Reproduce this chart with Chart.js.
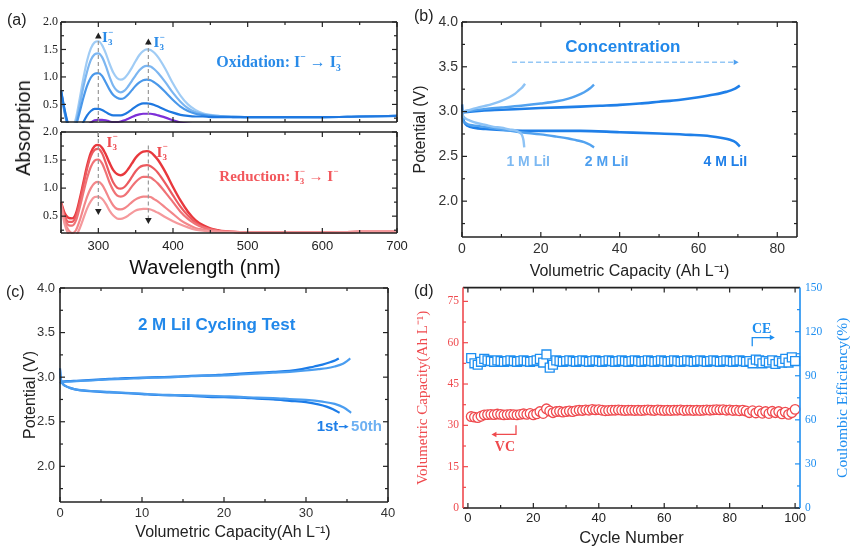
<!DOCTYPE html>
<html><head><meta charset="utf-8">
<script src="https://cdn.jsdelivr.net/npm/chart.js@4.4.1/dist/chart.umd.min.js"></script>
<style>
html,body{margin:0;padding:0;background:#fff;}
body{width:850px;height:546px;overflow:hidden;position:relative;}
canvas{position:absolute;}
.lab{position:absolute;font-family:"Liberation Sans",Arial,sans-serif;color:#222;white-space:nowrap;line-height:1;}
.rot{transform:translate(-50%,-50%) rotate(-90deg);}
</style></head><body>
<canvas id="cA1" width="420" height="135" style="left:0;top:0"></canvas>
<canvas id="cA2" width="420" height="160" style="left:0;top:125px"></canvas>
<canvas id="cB" width="440" height="290" style="left:410px;top:0"></canvas>
<canvas id="cC" width="410" height="266" style="left:0;top:280px"></canvas>
<canvas id="cD" width="440" height="276" style="left:410px;top:280px"></canvas>
<div class="lab" style="left:7px;top:12px;font-size:16px">(a)</div>
<div class="lab" style="left:414px;top:8px;font-size:16px">(b)</div>
<div class="lab" style="left:6px;top:284px;font-size:16px">(c)</div>
<div class="lab" style="left:414px;top:283px;font-size:16px">(d)</div>
<div class="lab rot" style="left:23px;top:128px;font-size:20px;color:#111">Absorption</div>
<script>
// ---------- DATA ----------
const wavelength = [250,255,260,265,270,275,280,285,290,295,300,305,310,315,320,325,330,335,340,345,350,355,360,365,370,375,380,390,400,410,420,430,440,450,460,470,480,500,550,600,650,700];
const ox1 = [0.75,0.38,0.12,0.08,0.25,0.60,0.98,1.30,1.52,1.63,1.65,1.58,1.43,1.24,1.08,0.98,0.95,0.98,1.06,1.17,1.29,1.40,1.47,1.50,1.49,1.44,1.36,1.14,0.88,0.66,0.50,0.40,0.34,0.31,0.29,0.28,0.28,0.27,0.27,0.27,0.28,0.29];
const ox2 = [0.75,0.36,0.10,0.05,0.18,0.48,0.82,1.10,1.31,1.41,1.43,1.36,1.20,1.00,0.84,0.75,0.72,0.75,0.83,0.93,1.03,1.12,1.18,1.20,1.19,1.14,1.07,0.90,0.71,0.55,0.43,0.36,0.32,0.30,0.29,0.28,0.28,0.27,0.27,0.27,0.28,0.29];
const ox3 = [0.75,0.34,0.08,0.03,0.12,0.36,0.62,0.84,0.99,1.06,1.07,1.02,0.90,0.77,0.67,0.62,0.60,0.62,0.68,0.76,0.84,0.90,0.94,0.95,0.94,0.90,0.85,0.72,0.58,0.46,0.38,0.33,0.31,0.29,0.28,0.28,0.27,0.27,0.27,0.27,0.28,0.29];
const ox4 = [0.76,0.40,0.12,0.00,-0.05,0.05,0.18,0.30,0.38,0.42,0.42,0.40,0.36,0.32,0.30,0.30,0.30,0.32,0.36,0.41,0.46,0.50,0.52,0.52,0.51,0.49,0.46,0.40,0.35,0.31,0.29,0.28,0.28,0.27,0.27,0.27,0.27,0.27,0.27,0.27,0.28,0.29];
const oxStart = [0.05,0.05,0.05,0.05,0.05,0.06,0.08,0.12,0.17,0.21,0.22,0.22,0.21,0.19,0.18,0.18,0.19,0.21,0.24,0.27,0.30,0.32,0.33,0.33,0.33,0.32,0.30,0.26,0.21,0.17,0.15,0.14,0.13,0.12,0.12,0.12,0.12,0.12,0.12,0.12,0.12,0.12];
const red1 = [0.75,0.55,0.47,0.46,0.55,0.80,1.10,1.40,1.63,1.75,1.77,1.72,1.60,1.45,1.32,1.25,1.23,1.26,1.34,1.44,1.54,1.61,1.65,1.66,1.64,1.58,1.50,1.28,1.02,0.78,0.58,0.43,0.34,0.28,0.25,0.23,0.22,0.21,0.21,0.21,0.22,0.22];
const red2 = [0.74,0.50,0.40,0.40,0.50,0.75,1.05,1.35,1.57,1.68,1.70,1.62,1.45,1.26,1.10,1.01,0.99,1.02,1.10,1.20,1.30,1.37,1.40,1.41,1.39,1.34,1.27,1.08,0.87,0.67,0.51,0.39,0.31,0.27,0.24,0.23,0.22,0.21,0.21,0.21,0.22,0.22];
const red3 = [0.73,0.46,0.34,0.33,0.42,0.65,0.92,1.18,1.38,1.49,1.51,1.44,1.28,1.10,0.96,0.87,0.85,0.87,0.94,1.03,1.11,1.17,1.20,1.20,1.19,1.14,1.08,0.92,0.75,0.58,0.45,0.36,0.30,0.26,0.24,0.22,0.22,0.21,0.21,0.21,0.22,0.22];
const red4 = [0.72,0.40,0.25,0.20,0.25,0.42,0.64,0.85,1.00,1.09,1.11,1.06,0.94,0.80,0.69,0.63,0.62,0.64,0.69,0.75,0.80,0.83,0.85,0.85,0.84,0.80,0.76,0.65,0.54,0.43,0.35,0.29,0.26,0.24,0.23,0.22,0.22,0.21,0.21,0.21,0.22,0.22];
const red5 = [0.70,0.35,0.18,0.12,0.15,0.28,0.46,0.64,0.77,0.84,0.85,0.81,0.72,0.60,0.51,0.46,0.45,0.47,0.51,0.56,0.60,0.62,0.63,0.63,0.62,0.59,0.56,0.48,0.41,0.35,0.30,0.26,0.24,0.23,0.22,0.22,0.22,0.21,0.21,0.21,0.22,0.22];

// (b) concentration
const cap1MCharge = [0,1,2,4,6,8,10,12,13.5,14.5,15.3,16.0];
const pot1MCharge = [2.99,3.01,3.02,3.045,3.065,3.09,3.12,3.16,3.2,3.24,3.27,3.31];
const cap1MDis = [0,0.3,1,2,4,6,8,10,12,13.5,14.5,15.2,15.6,15.8];
const pot1MDis = [2.99,2.95,2.92,2.9,2.87,2.85,2.83,2.82,2.8,2.79,2.77,2.74,2.68,2.6];
const cap2MCharge = [0,1,3,6,10,15,20,24,27,29,31,32.5,33.5];
const pot2MCharge = [2.99,3.0,3.015,3.03,3.045,3.065,3.09,3.115,3.145,3.175,3.215,3.26,3.30];
const cap2MDis = [0,0.3,1,2,4,7,10,15,20,24,27,29,31,32.5,33.5];
const pot2MDis = [2.97,2.9,2.87,2.85,2.84,2.82,2.8,2.77,2.745,2.72,2.70,2.68,2.66,2.63,2.60];
const cap4MCharge = [0,2,5,10,20,30,35,40,45,50,55,60,64,67,69,70.5];
const pot4MCharge = [2.99,3.0,3.01,3.02,3.04,3.055,3.065,3.075,3.09,3.11,3.13,3.16,3.19,3.22,3.25,3.29];
const cap4MDis = [0,0.2,0.6,1.5,3,6,10,20,30,40,50,58,63,66,68,69.5,70.5];
const pot4MDis = [3.08,2.95,2.88,2.84,2.82,2.805,2.795,2.785,2.785,2.77,2.755,2.74,2.725,2.705,2.685,2.655,2.61];

// (c) cycling
const cap1stCharge = [0,0.3,1,2,4,6,8,10,12,14,16,18,20,22,24,26,28,29.5,31,32,33,33.6,34.0];
const pot1stCharge = [2.93,2.95,2.955,2.96,2.97,2.98,2.99,2.995,3.0,3.005,3.015,3.02,3.03,3.04,3.05,3.06,3.07,3.09,3.12,3.14,3.17,3.19,3.21];
const cap50thCharge = [0,0.3,1,2,4,6,8,10,12,14,16,18,20,22,24,26,28,30,31.5,32.5,33.5,34.5,35.0,35.4];
const pot50thCharge = [2.93,2.945,2.95,2.955,2.965,2.975,2.98,2.99,2.995,3.0,3.01,3.015,3.02,3.03,3.04,3.05,3.06,3.075,3.09,3.1,3.12,3.15,3.18,3.21];
const cap1stDis = [0,0.1,0.3,0.7,1.2,2,4,6,8,10,12,14,16,18,20,22,24,26,28,30,31.5,32.5,33.3,34.1];
const pot1stDis = [3.1,2.98,2.93,2.9,2.88,2.86,2.84,2.83,2.82,2.81,2.80,2.795,2.79,2.78,2.775,2.77,2.76,2.75,2.735,2.72,2.695,2.67,2.64,2.6];
const cap50thDis = [0,0.1,0.3,0.7,1.2,2,4,6,8,10,12,14,16,18,20,22,24,26,28,30,32,33.5,34.6,35.5];
const pot50thDis = [3.08,2.98,2.93,2.9,2.88,2.86,2.845,2.835,2.825,2.815,2.805,2.8,2.795,2.79,2.785,2.78,2.77,2.765,2.755,2.745,2.725,2.7,2.66,2.6];

// (d) cycle performance
const cycleNumber = [1,2,3,4,5,6,7,8,9,10,11,12,13,14,15,16,17,18,19,20,21,22,23,24,25,26,27,28,29,30,31,32,33,34,35,36,37,38,39,40,41,42,43,44,45,46,47,48,49,50,51,52,53,54,55,56,57,58,59,60,61,62,63,64,65,66,67,68,69,70,71,72,73,74,75,76,77,78,79,80,81,82,83,84,85,86,87,88,89,90,91,92,93,94,95,96,97,98,99,100];
const volCapacity = [33.2,33.0,32.8,33.3,33.8,33.9,34.0,33.9,34.1,34.0,33.8,33.9,34.0,33.9,33.8,34.0,34.2,34.0,34.3,33.8,34.2,35.0,34.3,36.0,35.2,34.6,35.0,35.1,34.8,35.0,35.2,35.0,35.3,35.5,35.4,35.6,35.5,35.8,35.6,35.7,35.5,35.3,35.4,35.5,35.5,35.6,35.5,35.4,35.5,35.5,35.4,35.5,35.4,35.5,35.6,35.5,35.4,35.6,35.5,35.4,35.5,35.4,35.5,35.5,35.6,35.4,35.5,35.5,35.4,35.5,35.4,35.5,35.6,35.5,35.6,35.7,35.6,35.7,35.5,35.6,35.4,35.5,35.3,35.5,35.2,34.6,35.3,34.5,35.2,34.4,35.0,34.3,35.1,34.6,35.0,34.2,34.8,34.0,34.6,35.8];
const coulombicEff = [102,98.5,97.5,99.5,101.5,100.5,100,99.5,100.5,100,99.5,100,100.5,100,99.5,100,100.5,100,99.5,100,100.5,101.5,99,104.5,95.5,97.5,100.5,100,99.5,100,100.5,100,99.5,100,100.5,100,99.5,100,100.5,100,99.5,100,100.5,100,99.5,100,100.5,100,99.5,100,100.5,100,99.5,100,100.5,100,99.5,100,100.5,100,99.5,100,100.5,100,99.5,100,100.5,100,99.5,100,100.5,100,99.5,100,100.5,100,99.5,100,100.5,100,99.5,100,100.5,100,99.5,100,98.5,101,100.5,98.5,100,99,100.5,98,100,99,101.5,99,102.5,100];

// ---------- HELPERS ----------
const SANS = '"Liberation Sans", Arial, sans-serif';
const SERIF = '"Liberation Serif", "Times New Roman", serif';
Chart.defaults.font.family = SANS;

function pts(xs, ys){ return xs.map((x,i)=>({x:x, y:ys[i]})); }
function ds(xs, ys, color, w, extra){
  return Object.assign({data:pts(xs,ys), borderColor:color, borderWidth:w, pointRadius:0, fill:false,
    cubicInterpolationMode:'monotone', clip:1}, extra||{});
}
function fixW(w){ return s => { s.width = w; s.paddingTop = 0; s.paddingBottom = 0; s.paddingLeft = 0; s.paddingRight = 0; }; }
function fixH(h){ return s => { s.height = h; s.paddingTop = 0; s.paddingBottom = 0; s.paddingLeft = 0; s.paddingRight = 0; }; }
const noGrid = {display:false, drawTicks:false};
const noBorder = {display:false};

function framePlugin(spec){
  return {id:'frame', afterDatasetsDraw(chart){
    const ctx = chart.ctx, a = chart.chartArea;
    ctx.save();
    ctx.lineWidth = 1.2;
    spec.ticks.forEach(t => {
      const sc = chart.scales[t.scale];
      ctx.strokeStyle = t.color;
      const k0 = Math.ceil(sc.min / t.step - 1e-6), k1 = Math.floor(sc.max / t.step + 1e-6);
      for (let k = k0; k <= k1; k++){
        const v = k * t.step;
        const r = v / t.major;
        const major = Math.abs(r - Math.round(r)) < 1e-6;
        const len = major ? 5 : 3;
        const p = sc.getPixelForValue(v);
        t.sides.forEach(s => {
          ctx.beginPath();
          if (s==='bottom'){ ctx.moveTo(p, a.bottom); ctx.lineTo(p, a.bottom-len); }
          if (s==='top'){ ctx.moveTo(p, a.top); ctx.lineTo(p, a.top+len); }
          if (s==='left'){ ctx.moveTo(a.left, p); ctx.lineTo(a.left+len, p); }
          if (s==='right'){ ctx.moveTo(a.right, p); ctx.lineTo(a.right-len, p); }
          ctx.stroke();
        });
      }
    });
    ctx.lineWidth = 1.6;
    const sp = spec.spines;
    [['top',a.left,a.top,a.right,a.top],['bottom',a.left,a.bottom,a.right,a.bottom],
     ['left',a.left,a.top,a.left,a.bottom],['right',a.right,a.top,a.right,a.bottom]].forEach(l=>{
      ctx.strokeStyle = sp[l[0]]; ctx.beginPath(); ctx.moveTo(l[1],l[2]); ctx.lineTo(l[3],l[4]); ctx.stroke();
    });
    ctx.restore();
  }};
}
function allSides(stepX, majX, stepY, majY){
  return {spines:{top:'#222',bottom:'#222',left:'#222',right:'#222'}, ticks:[
    {scale:'x', step:stepX, major:majX, sides:['bottom','top'], color:'#222'},
    {scale:'y', step:stepY, major:majY, sides:['left','right'], color:'#222'}]};
}
function arrowHead(ctx, x, y, dir, size, color){
  ctx.save(); ctx.fillStyle = color; ctx.beginPath();
  const s = size, h = size*0.55;
  if (dir==='up'){ ctx.moveTo(x,y); ctx.lineTo(x-h,y+s); ctx.lineTo(x+h,y+s); }
  if (dir==='down'){ ctx.moveTo(x,y); ctx.lineTo(x-h,y-s); ctx.lineTo(x+h,y-s); }
  if (dir==='right'){ ctx.moveTo(x,y); ctx.lineTo(x-s,y-h); ctx.lineTo(x-s,y+h); }
  if (dir==='left'){ ctx.moveTo(x,y); ctx.lineTo(x+s,y-h); ctx.lineTo(x+s,y+h); }
  ctx.closePath(); ctx.fill(); ctx.restore();
}
function rich(ctx, segs, x, y, color, size, family, weight, align){
  ctx.save();
  ctx.fillStyle = color; ctx.textBaseline = 'middle'; ctx.textAlign = 'left';
  let total = 0;
  segs.forEach(s => { ctx.font = weight+' '+(size*(s.s||1))+'px '+family; if(!s.noadv) total += ctx.measureText(s.t).width; });
  let cx = align==='center' ? x - total/2 : x;
  segs.forEach(s => {
    ctx.font = weight+' '+(size*(s.s||1))+'px '+family;
    ctx.fillText(s.t, cx, y + (s.dy||0)*size);
    if (!s.noadv) cx += ctx.measureText(s.t).width;
  });
  ctx.restore();
}
const I3 = [{t:'I'},{t:'3',s:0.6,dy:0.32,noadv:true},{t:'\u2212',s:0.6,dy:-0.38}];
function dashedLine(ctx, x1, y1, x2, y2, color, dash, w){
  ctx.save(); ctx.strokeStyle = color; ctx.lineWidth = w||1.2; ctx.setLineDash(dash);
  ctx.beginPath(); ctx.moveTo(x1,y1); ctx.lineTo(x2,y2); ctx.stroke(); ctx.restore();
}
function baseOpts(pad){
  return {responsive:false, animation:false, devicePixelRatio:1, layout:{padding:pad},
    plugins:{legend:{display:false}, tooltip:{enabled:false}}, elements:{line:{tension:0}}};
}
const tickFmt1 = v => Number(v).toFixed(1);

// ---------- (a) top: oxidation ----------
const annA1 = {id:'annA1', afterDatasetsDraw(chart){
  const ctx = chart.ctx, x = chart.scales.x, y = chart.scales.y;
  dashedLine(ctx, x.getPixelForValue(300), y.getPixelForValue(0.18), x.getPixelForValue(300), y.getPixelForValue(1.74), '#999', [4,3]);
  dashedLine(ctx, x.getPixelForValue(367), y.getPixelForValue(0.18), x.getPixelForValue(367), y.getPixelForValue(1.63), '#999', [4,3]);
  arrowHead(ctx, x.getPixelForValue(300), y.getPixelForValue(1.81), 'up', 6, '#222');
  arrowHead(ctx, x.getPixelForValue(367), y.getPixelForValue(1.70), 'up', 6, '#222');
  rich(ctx, I3, x.getPixelForValue(305), y.getPixelForValue(1.71), '#2a8be8', 15, SERIF, 'bold');
  rich(ctx, I3, x.getPixelForValue(374), y.getPixelForValue(1.62), '#2a8be8', 15, SERIF, 'bold');
  rich(ctx, [{t:'Oxidation: I'},{t:'\u2212',s:0.6,dy:-0.38},{t:' \u2192 I'},{t:'3',s:0.6,dy:0.32,noadv:true},{t:'\u2212',s:0.6,dy:-0.38}],
    x.getPixelForValue(458), y.getPixelForValue(1.25), '#2a8be8', 16, SERIF, 'bold');
}};
new Chart(document.getElementById('cA1'), {
  type:'line',
  data:{datasets:[
    ds(wavelength, oxStart, '#7d2fd8', 2.2),
    ds(wavelength, ox4, '#1f78e0', 2.2),
    ds(wavelength, ox3, '#4a98ea', 2.2),
    ds(wavelength, ox2, '#7cb6f1', 2.2),
    ds(wavelength, ox1, '#a0ccf5', 2.2)
  ]},
  options: Object.assign(baseOpts({left:0, top:22, right:23, bottom:13}), {
    scales:{
      x:{type:'linear', display:false, min:250, max:700},
      y:{type:'linear', min:0.18, max:2.0, grid:noGrid, border:noBorder,
         ticks:{stepSize:0.5, includeBounds:false, padding:3, color:'#222', font:{family:SERIF, size:12}, callback:tickFmt1},
         afterFit:fixW(61)}
    }}),
  plugins:[framePlugin(allSides(50,100,0.25,0.5)), annA1]
});

// ---------- (a) bottom: reduction ----------
const annA2 = {id:'annA2', afterDatasetsDraw(chart){
  const ctx = chart.ctx, x = chart.scales.x, y = chart.scales.y;
  dashedLine(ctx, x.getPixelForValue(300), y.getPixelForValue(2.0), x.getPixelForValue(300), y.getPixelForValue(0.62), '#999', [4,3]);
  dashedLine(ctx, x.getPixelForValue(367), y.getPixelForValue(1.76), x.getPixelForValue(367), y.getPixelForValue(0.45), '#999', [4,3]);
  arrowHead(ctx, x.getPixelForValue(300), y.getPixelForValue(0.52), 'down', 6, '#222');
  arrowHead(ctx, x.getPixelForValue(367), y.getPixelForValue(0.36), 'down', 6, '#222');
  rich(ctx, I3, x.getPixelForValue(311), y.getPixelForValue(1.81), '#ee4a4f', 15, SERIF, 'bold');
  rich(ctx, I3, x.getPixelForValue(378), y.getPixelForValue(1.63), '#ee4a4f', 15, SERIF, 'bold');
  rich(ctx, [{t:'Reduction: I'},{t:'3',s:0.6,dy:0.32,noadv:true},{t:'\u2212',s:0.6,dy:-0.38},{t:' \u2192 I'},{t:'\u2212',s:0.6,dy:-0.38}],
    x.getPixelForValue(462), y.getPixelForValue(1.2), '#f2585d', 15, SERIF, 'bold');
  // x-axis title (placed as in the reference, left of the axis centre)
  rich(ctx, [{t:'Wavelength (nm)'}], 205, 143, '#111', 20, SANS, 'normal', 'center');
}};
new Chart(document.getElementById('cA2'), {
  type:'line',
  data:{datasets:[
    ds(wavelength, red5, '#f5999c', 2.2),
    ds(wavelength, red4, '#f3878a', 2.2),
    ds(wavelength, red3, '#f07276', 2.2),
    ds(wavelength, red2, '#ec5a5f', 2.2),
    ds(wavelength, red1, '#e8383d', 2.4)
  ]},
  options: Object.assign(baseOpts({left:0, top:7, right:23, bottom:0}), {
    scales:{
      x:{type:'linear', min:250, max:700, grid:noGrid, border:noBorder,
         ticks:{stepSize:100, includeBounds:false, autoSkip:false, maxRotation:0, padding:6, color:'#222', font:{size:13}},
         afterFit:fixH(52)},
      y:{type:'linear', min:0.2, max:2.0, grid:noGrid, border:noBorder,
         ticks:{stepSize:0.5, includeBounds:false, padding:3, color:'#222', font:{family:SERIF, size:12}, callback:tickFmt1},
         afterFit:fixW(61)}
    }}),
  plugins:[framePlugin(allSides(50,100,0.25,0.5)), annA2]
});

// ---------- (b) concentration ----------
const annB = {id:'annB', afterDatasetsDraw(chart){
  const ctx = chart.ctx, x = chart.scales.x, y = chart.scales.y;
  rich(ctx, [{t:'Concentration'}], x.getPixelForValue(40.8), y.getPixelForValue(3.72), '#2188ea', 17, SANS, 'bold', 'center');
  dashedLine(ctx, x.getPixelForValue(12.7), y.getPixelForValue(3.55), x.getPixelForValue(69), y.getPixelForValue(3.55), '#94c7f5', [5,3], 1.4);
  arrowHead(ctx, x.getPixelForValue(70.2), y.getPixelForValue(3.55), 'right', 5, '#4e9fef');
  rich(ctx, [{t:'1 M LiI'}], x.getPixelForValue(16.8), y.getPixelForValue(2.44), '#7db9f2', 14, SANS, 'bold', 'center');
  rich(ctx, [{t:'2 M LiI'}], x.getPixelForValue(36.7), y.getPixelForValue(2.44), '#4e9fef', 14, SANS, 'bold', 'center');
  rich(ctx, [{t:'4 M LiI'}], x.getPixelForValue(66.8), y.getPixelForValue(2.44), '#1f7fe8', 14, SANS, 'bold', 'center');
}};
new Chart(document.getElementById('cB'), {
  type:'line',
  data:{datasets:[
    ds(cap1MCharge, pot1MCharge, '#8ec3f5', 2.4),
    ds(cap1MDis, pot1MDis, '#8ec3f5', 2.4),
    ds(cap2MCharge, pot2MCharge, '#52a2ef', 2.4),
    ds(cap2MDis, pot2MDis, '#52a2ef', 2.4),
    ds(cap4MCharge, pot4MCharge, '#1f7fe8', 2.6),
    ds(cap4MDis, pot4MDis, '#1f7fe8', 2.6)
  ]},
  options: Object.assign(baseOpts({left:0, top:22, right:53, bottom:0}), {
    scales:{
      x:{type:'linear', min:0, max:85, grid:noGrid, border:noBorder,
         ticks:{stepSize:20, includeBounds:false, autoSkip:false, maxRotation:0, padding:3.5, color:'#333', font:{size:14}},
         title:{display:true, text:'Volumetric Capacity (Ah L\u207B\u00B9)', color:'#222', font:{size:16}, padding:{top:0, bottom:9}},
         afterFit:fixH(53)},
      y:{type:'linear', min:1.6, max:4.0, grid:noGrid, border:noBorder,
         ticks:{stepSize:0.5, includeBounds:false, padding:4, color:'#333', font:{size:14}, callback:tickFmt1},
         title:{display:true, text:'Potential (V)', color:'#222', font:{size:16}, padding:{top:1, bottom:0}},
         afterFit:fixW(52)}
    }}),
  plugins:[framePlugin(allSides(10,20,0.25,0.5)), annB]
});

// ---------- (c) cycling ----------
const annC = {id:'annC', afterDatasetsDraw(chart){
  const ctx = chart.ctx, x = chart.scales.x, y = chart.scales.y;
  rich(ctx, [{t:'2 M LiI Cycling Test'}], x.getPixelForValue(19.1), y.getPixelForValue(3.58), '#2188ea', 17, SANS, 'bold', 'center');
  const yy = y.getPixelForValue(2.445);
  rich(ctx, [{t:'1st'}], x.getPixelForValue(31.3), yy, '#1f7fe8', 15, SANS, 'bold');
  ctx.save(); ctx.strokeStyle = '#1f7fe8'; ctx.lineWidth = 1.3; ctx.beginPath();
  ctx.moveTo(x.getPixelForValue(34.0), yy); ctx.lineTo(x.getPixelForValue(34.8), yy); ctx.stroke(); ctx.restore();
  arrowHead(ctx, x.getPixelForValue(35.2), yy, 'right', 4, '#1f7fe8');
  rich(ctx, [{t:'50th'}], x.getPixelForValue(35.5), yy, '#6db0f2', 15, SANS, 'bold');
  // x-axis title (slightly right of the axis centre, as in the reference)
  rich(ctx, [{t:'Volumetric Capacity(Ah L\u207B\u00B9)'}], 233, 253, '#222', 16, SANS, 'normal', 'center');
}};
new Chart(document.getElementById('cC'), {
  type:'line',
  data:{datasets:[
    ds(cap50thCharge, pot50thCharge, '#4a9df0', 2.2),
    ds(cap50thDis, pot50thDis, '#4a9df0', 2.2),
    ds(cap1stCharge, pot1stCharge, '#1c7ce8', 2.2),
    ds(cap1stDis, pot1stDis, '#1c7ce8', 2.2)
  ]},
  options: Object.assign(baseOpts({left:0, top:8, right:22, bottom:0}), {
    scales:{
      x:{type:'linear', min:0, max:40, grid:noGrid, border:noBorder,
         ticks:{stepSize:10, includeBounds:false, autoSkip:false, maxRotation:0, padding:3.5, color:'#333', font:{size:13}},
         afterFit:fixH(44)},
      y:{type:'linear', min:1.6, max:4.0, grid:noGrid, border:noBorder,
         ticks:{stepSize:0.5, includeBounds:false, padding:5, color:'#333', font:{size:13}, callback:tickFmt1},
         title:{display:true, text:'Potential (V)', color:'#222', font:{size:16}, padding:{top:21, bottom:0}},
         afterFit:fixW(60)}
    }}),
  plugins:[framePlugin(allSides(5,10,0.25,0.5)), annC]
});

// ---------- (d) cycle performance ----------
const RED = '#ef4a4e', BLUE = '#1e8ef0';
const annD = {id:'annD', afterDatasetsDraw(chart){
  const ctx = chart.ctx, x = chart.scales.x, y = chart.scales.y, y2 = chart.scales.y2;
  ctx.save(); ctx.lineWidth = 1.3;
  ctx.strokeStyle = BLUE; ctx.beginPath();
  ctx.moveTo(x.getPixelForValue(86.9), y2.getPixelForValue(110));
  ctx.lineTo(x.getPixelForValue(86.9), y2.getPixelForValue(116));
  ctx.lineTo(x.getPixelForValue(92.5), y2.getPixelForValue(116)); ctx.stroke();
  arrowHead(ctx, x.getPixelForValue(93.8), y2.getPixelForValue(116), 'right', 5, BLUE);
  ctx.strokeStyle = RED; ctx.beginPath();
  ctx.moveTo(x.getPixelForValue(14.7), y.getPixelForValue(30));
  ctx.lineTo(x.getPixelForValue(14.7), y.getPixelForValue(26.7));
  ctx.lineTo(x.getPixelForValue(8.6), y.getPixelForValue(26.7)); ctx.stroke();
  arrowHead(ctx, x.getPixelForValue(7.2), y.getPixelForValue(26.7), 'left', 5, RED);
  ctx.restore();
  rich(ctx, [{t:'CE'}], x.getPixelForValue(89.8), y2.getPixelForValue(121.8), BLUE, 14, SERIF, 'bold', 'center');
  rich(ctx, [{t:'VC'}], x.getPixelForValue(11.3), y.getPixelForValue(22), RED, 14, SERIF, 'bold', 'center');
  const a = chart.chartArea;
  ctx.save(); ctx.translate(433, (a.top + a.bottom)/2); ctx.rotate(-Math.PI/2);
  ctx.fillStyle = BLUE; ctx.font = '15.5px ' + SERIF; ctx.textAlign = 'center'; ctx.textBaseline = 'middle';
  ctx.fillText('Coulombic Efficiency(%)', 0, 0); ctx.restore();
}};
new Chart(document.getElementById('cD'), {
  type:'line',
  data:{datasets:[
    {data:pts(cycleNumber, volCapacity), yAxisID:'y', showLine:false, pointStyle:'circle', pointRadius:4.8,
     pointBorderWidth:1.3, pointBorderColor:RED, pointBackgroundColor:'#fff', borderColor:RED, clip:6},
    {data:pts(cycleNumber, coulombicEff), yAxisID:'y2', showLine:false, pointStyle:'rect', pointRadius:6.3,
     pointBorderWidth:1.3, pointBorderColor:BLUE, pointBackgroundColor:'#fff', borderColor:BLUE, clip:6}
  ]},
  options: Object.assign(baseOpts({left:0, top:7, right:0, bottom:0}), {
    scales:{
      x:{type:'linear', min:-1.5, max:101.5, grid:noGrid, border:noBorder,
         ticks:{stepSize:20, includeBounds:false, autoSkip:false, maxRotation:0, padding:2.5, color:'#222', font:{size:13}},
         title:{display:true, text:'Cycle Number', color:'#222', font:{size:16.5}, padding:{top:0, bottom:8}},
         afterFit:fixH(48)},
      y:{type:'linear', position:'left', min:0, max:80, grid:noGrid, border:noBorder,
         ticks:{stepSize:15, includeBounds:false, padding:4, color:RED, font:{family:SERIF, size:11.5}},
         title:{display:true, text:'Volumetric Capacity(Ah L\u207B\u00B9)', color:RED, font:{family:SERIF, size:15}, padding:{top:4, bottom:0}},
         afterFit:fixW(53)},
      y2:{type:'linear', position:'right', min:0, max:150, grid:noGrid, border:noBorder,
         ticks:{stepSize:30, includeBounds:false, padding:5, color:BLUE, font:{family:SERIF, size:11.5}},
         afterFit:fixW(50)}
    }}),
  plugins:[framePlugin({spines:{top:'#222',bottom:'#222',left:RED,right:BLUE}, ticks:[
    {scale:'x', step:10, major:20, sides:['bottom','top'], color:'#222'},
    {scale:'y', step:7.5, major:15, sides:['left'], color:RED},
    {scale:'y2', step:15, major:30, sides:['right'], color:BLUE}]}), annD]
});
</script>
</body></html>
